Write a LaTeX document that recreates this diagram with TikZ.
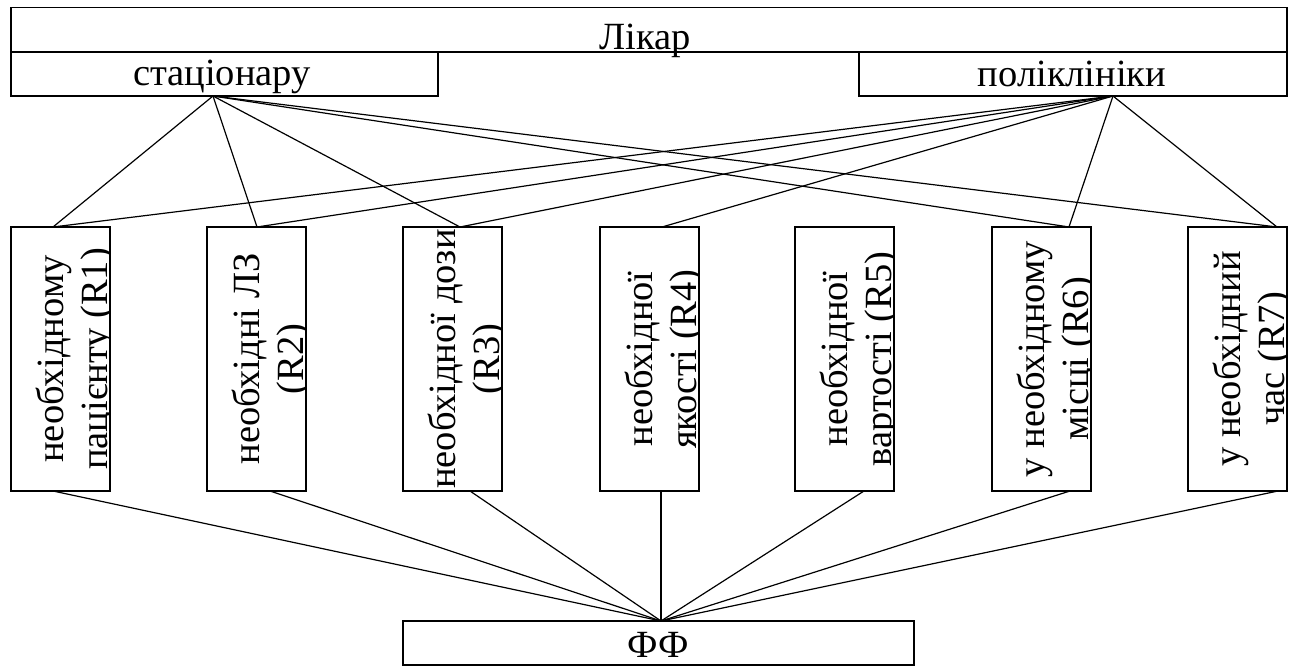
\documentclass[tikz,border=0pt]{standalone}
\usepackage{fontspec}
\setmainfont{Liberation Serif}
\usetikzlibrary{calc}
\begin{document}
\begin{tikzpicture}[x=1pt,y=-1pt,
  box/.style={draw, line width=1.8pt, inner sep=0pt, outer sep=0pt},
  lbl/.style={inner sep=0pt, anchor=base, font=\fontsize{38.5}{44}\selectfont},
  vlbl/.style={lbl, rotate=90},
  link/.style={line width=1.2pt}]
\useasboundingbox (0,0) rectangle (1294,666);

% top level: the doctor and its two kinds
\node[box, minimum width=1276pt, minimum height=44.5pt, anchor=north west] (likar) at (11,7.5) {};
\node[box, minimum width=427pt, minimum height=44pt, anchor=north west] (stac) at (11,52) {};
\node[box, minimum width=428pt, minimum height=44pt, anchor=north west] (polik) at (859,52) {};
\node[lbl] (likarT) at (645,50) {Лікар};
\node[lbl] (stacT) at (222,86) {стаціонару};
\node[lbl] (polikT) at (1072,87) {поліклініки};

% bottom box
\node[box, minimum width=511pt, minimum height=44pt, anchor=north west] (ff) at (403,621) {};
\node[lbl] (ffT) at (658,657) {ФФ};

% connection points
\coordinate (sp) at ($(stac.south west)+(202,0)$);
\coordinate (pp) at ($(polik.south west)+(254,0)$);
\coordinate (fp) at ($(ff.north west)+(258,0)$);

% the seven requirements R1..R7
\foreach \i/\xl/\la/\lb/\ta/\ba in {
  1/11/{необхідному}/{пацієнту (R1)}/42/42,
  2/207/{необхідні ЛЗ}/{(R2)}/50/63,
  3/403/{необхідної дози}/{(R3)}/57/67,
  4/600/{необхідної}/{якості (R4)}/62/61,
  5/795/{необхідної}/{вартості (R5)}/50/69,
  6/992/{у необхідному}/{місці (R6)}/77/78,
  7/1188/{у необхідний}/{час (R7)}/89/90}
{
  \node[box, minimum width=99pt, minimum height=264pt, anchor=north west] (r\i) at (\xl,227) {};
  \coordinate (t\i) at ($(r\i.north west)+(\ta,0)$);
  \coordinate (b\i) at ($(r\i.south west)+(\ba,0)$);
  \begin{scope}
    \clip (r\i.north west) rectangle (r\i.south east);
    \node[vlbl] (ra\i) at ($(r\i.north west)+(52,132)$) {\la};
    \node[vlbl] (rb\i) at ($(r\i.north west)+(96,132)$) {\lb};
  \end{scope}
}

% links from the doctor kinds to the requirements
\foreach \i in {1,2,3,6,7} \draw[link] (sp) -- (t\i);
\foreach \i in {1,2,3,4,6,7} \draw[link] (pp) -- (t\i);
% links from the requirements to the bottom box
\foreach \i in {1,...,7} \draw[link] (b\i) -- (fp);
\end{tikzpicture}
\end{document}
